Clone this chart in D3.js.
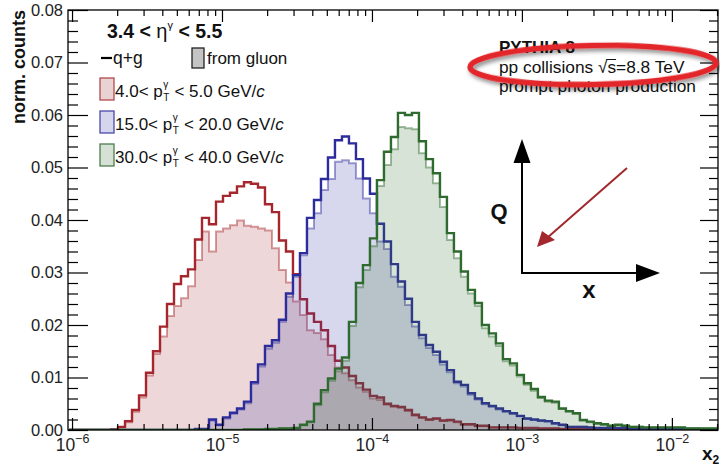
<!DOCTYPE html>
<html><head><meta charset="utf-8">
<script src="https://cdn.jsdelivr.net/npm/d3@7"></script>
<style>
body{margin:0;background:#fff}
svg{display:block}
text{font-family:"Liberation Sans",Arial,Helvetica,sans-serif}
</style>
</head><body>
<svg id="c" width="720" height="469"></svg>
<script>
// ---------------- data ----------------
const binLo = 1e-7, binHi = 1, nBins = 150;       // histogram binning in x2 (log-uniform)
const firstBin = 21, lastBin = 113;               // bins inside the visible x range
const xDomain = [9.4e-7, 0.0203];
const yDomain = [0, 0.08];
const yMajorTicks = [0, 0.01, 0.02, 0.03, 0.04, 0.05, 0.06, 0.07, 0.08];
const xDecadeTicks = [1e-6, 1e-5, 1e-4, 1e-3, 1e-2];
const xDecadeLabels = ["−6", "−5", "−4", "−3", "−2"];

const redStart = 27;
const redQG = [0.0001,0.0006,0.0017,0.0038,0.0066,0.0109,0.0150,0.0197,0.0240,0.0278,
0.0293,0.0306,0.0363,0.0404,0.0392,0.0435,0.0446,0.0452,0.0464,0.0472,
0.0469,0.0462,0.0430,0.0415,0.0361,0.0340,0.0297,0.0249,0.0222,0.0206,
0.0190,0.0160,0.0132,0.0119,0.0103,0.0089,0.0077,0.0065,0.0062,0.0050,
0.0046,0.0044,0.0038,0.0029,0.0024,0.0020,0.0022,0.0018,0.0019,0.0016,
0.0011,0.0011,0.0008,0.0008,0.0005,0.0005,0.0005,0.0005,0.0004,0.0004,
0.0004,0.0003,0.0003,0.0003,0.0002,0.0002,0.0002,0.0002,0.0002,0.0001,
0.0001,0.0001,0.0001,0.0001,0.0001,0.0001,0.0001,0.0001,0.0001];
const redGluon = [0.0001,0.0005,0.0015,0.0035,0.0062,0.0104,0.0145,0.0178,0.0217,0.0236,
0.0251,0.0274,0.0324,0.0378,0.0340,0.0378,0.0384,0.0390,0.0399,0.0389,
0.0387,0.0384,0.0380,0.0346,0.0305,0.0281,0.0245,0.0219,0.0190,0.0185,
0.0173,0.0143,0.0119,0.0108,0.0095,0.0081,0.0073,0.0060,0.0057,0.0048,
0.0044,0.0042,0.0036,0.0027,0.0023,0.0019,0.0021,0.0017,0.0018,0.0015,
0.0010,0.0010,0.0007,0.0007,0.0005,0.0005,0.0005,0.0005,0.0004,0.0004,
0.0004,0.0003,0.0003,0.0003,0.0002,0.0002,0.0002,0.0002,0.0002,0.0001,
0.0001,0.0001,0.0001,0.0001,0.0001,0.0001,0.0001,0.0001,0.0001];

const blueStart = 39;
const blueQG = [0.0002,0.0002,0.0020,0.0010,0.0024,0.0033,0.0041,0.0054,0.0091,0.0125,
0.0160,0.0171,0.0210,0.0260,0.0295,0.0337,0.0404,0.0438,0.0478,0.0519,
0.0552,0.0559,0.0546,0.0516,0.0479,0.0450,0.0393,0.0359,0.0316,0.0283,
0.0250,0.0206,0.0181,0.0162,0.0149,0.0130,0.0114,0.0092,0.0086,0.0070,
0.0060,0.0051,0.0046,0.0041,0.0036,0.0032,0.0027,0.0022,0.0020,0.0018,
0.0017,0.0013,0.0010,0.0006,0.0006,0.0006,0.0005,0.0004,0.0004,0.0004,
0.0004,0.0004,0.0002,0.0002,0.0002,0.0002,0.0002,0.0002,0.0002,0.0002,
0.0002,0.0002,0.0001,0.0001,0.0001];
const blueGluon = [0.0002,0.0002,0.0018,0.0009,0.0022,0.0031,0.0039,0.0051,0.0088,0.0121,
0.0155,0.0166,0.0206,0.0254,0.0292,0.0333,0.0384,0.0413,0.0457,0.0478,
0.0511,0.0514,0.0508,0.0479,0.0441,0.0413,0.0359,0.0345,0.0292,0.0273,
0.0238,0.0197,0.0175,0.0156,0.0143,0.0125,0.0110,0.0089,0.0083,0.0067,
0.0058,0.0049,0.0044,0.0039,0.0035,0.0031,0.0026,0.0021,0.0019,0.0017,
0.0016,0.0012,0.0009,0.0006,0.0006,0.0006,0.0005,0.0004,0.0004,0.0004,
0.0004,0.0004,0.0002,0.0002,0.0002,0.0002,0.0002,0.0002,0.0002,0.0002,
0.0002,0.0002,0.0001,0.0001,0.0001];

const greenStart = 46;
const greenQG = [0.0001,0.0001,0.0001,0.0002,0.0002,0.0003,0.0003,0.0004,0.0010,0.0016,
0.0050,0.0076,0.0098,0.0117,0.0138,0.0206,0.0280,0.0314,0.0365,0.0476,
0.0530,0.0558,0.0604,0.0600,0.0604,0.0550,0.0516,0.0489,0.0444,0.0375,
0.0340,0.0302,0.0267,0.0242,0.0200,0.0184,0.0165,0.0135,0.0127,0.0105,
0.0089,0.0078,0.0063,0.0056,0.0054,0.0041,0.0036,0.0032,0.0019,0.0016,
0.0013,0.0011,0.0008,0.0010,0.0008,0.0006,0.0006,0.0005,0.0005,0.0005,
0.0005,0.0005,0.0005,0.0003,0.0003,0.0003,0.0003,0.0003];
const greenGluon = [0.0001,0.0001,0.0001,0.0002,0.0002,0.0003,0.0003,0.0004,0.0009,0.0015,
0.0047,0.0072,0.0094,0.0112,0.0132,0.0198,0.0272,0.0305,0.0350,0.0465,
0.0505,0.0535,0.0577,0.0575,0.0573,0.0527,0.0500,0.0470,0.0425,0.0362,
0.0327,0.0292,0.0260,0.0236,0.0194,0.0178,0.0160,0.0131,0.0123,0.0102,
0.0086,0.0075,0.0061,0.0054,0.0052,0.0040,0.0035,0.0031,0.0018,0.0015,
0.0012,0.0010,0.0008,0.0009,0.0008,0.0006,0.0006,0.0005,0.0005,0.0005,
0.0005,0.0005,0.0005,0.0003,0.0003,0.0003,0.0003,0.0003];

const seriesLabels = [["4.0", "5.0"], ["15.0", "20.0"], ["30.0", "40.0"]];

// ---------------- layout ----------------
const L = 68, R = 718, T = 10, B = 430;
const svg = d3.select("#c");
const x = d3.scaleLog().domain(xDomain).range([L, R]);
const y = d3.scaleLinear().domain(yDomain).range([B, T]);

const defs = svg.append("defs");
defs.append("clipPath").attr("id", "plotclip").append("rect")
  .attr("x", L).attr("y", T).attr("width", R - L).attr("height", B - T);
const f = defs.append("filter").attr("id", "shadow").attr("x", "-10%").attr("y", "-30%").attr("width", "120%").attr("height", "160%");
f.append("feDropShadow").attr("dx", 2).attr("dy", 3).attr("stdDeviation", 2.2)
  .attr("flood-color", "#000").attr("flood-opacity", 0.45);

const lgLo = Math.log10(binLo), lgStep = (Math.log10(binHi) - Math.log10(binLo)) / nBins;
const edge = k => Math.pow(10, lgLo + k * lgStep);

function histPath(vals, start) {
  let p = d3.path();
  p.moveTo(x(edge(firstBin)), y(0));
  for (let k = firstBin; k <= lastBin; k++) {
    const i = k - start;
    const v = (i >= 0 && i < vals.length) ? vals[i] : 0;
    p.lineTo(x(edge(k)), y(v));
    p.lineTo(x(edge(k + 1)), y(v));
  }
  p.lineTo(x(edge(lastBin + 1)), y(0));
  return p.toString();
}

const series = [
  {qg: redQG, gl: redGluon, start: redStart, dark: "#a5262c", fill: "rgba(170,55,60,0.2)"},
  {qg: blueQG, gl: blueGluon, start: blueStart, dark: "#2c2c9c", fill: "rgba(55,55,170,0.2)"},
  {qg: greenQG, gl: greenGluon, start: greenStart, dark: "#2f6a2f", fill: "rgba(55,115,55,0.2)"}
];

const plot = svg.append("g").attr("clip-path", "url(#plotclip)");
series.forEach(s => {
  plot.append("path").attr("d", histPath(s.gl, s.start)).attr("fill", s.fill).attr("stroke", "none");
  plot.append("path").attr("d", histPath(s.gl, s.start)).attr("fill", "none")
    .attr("stroke", s.dark).attr("stroke-opacity", 0.45).attr("stroke-width", 2);
  plot.append("path").attr("d", histPath(s.qg, s.start)).attr("fill", "none")
    .attr("stroke", s.dark).attr("stroke-width", 2.4).attr("stroke-linejoin", "miter");
});

// ---------------- axes ----------------
const yMinor = d3.range(0, 0.0801, 0.002).filter(v => Math.abs(v * 100 - Math.round(v * 100)) > 1e-6);
const xMinor = [];
[1e-7, 1e-6, 1e-5, 1e-4, 1e-3, 1e-2].forEach(d => { for (let m = 2; m <= 9; m++) { const v = d * m; if (v > xDomain[0] && v < xDomain[1]) xMinor.push(v); } });

function styleAxis(g) { g.select(".domain").remove(); g.selectAll(".tick line").attr("stroke", "#000").attr("stroke-width", 1.2); }

const yl = svg.append("g").attr("transform", `translate(${L},0)`)
  .call(d3.axisLeft(y).tickValues(yMajorTicks).tickFormat(d3.format(".2f")).tickSizeInner(-20).tickSizeOuter(0).tickPadding(5));
styleAxis(yl);
yl.selectAll(".tick text").attr("font-size", 16.5).attr("fill", "#222").attr("font-family", '"Liberation Sans",Arial,sans-serif');
svg.append("g").attr("transform", `translate(${L},0)`)
  .call(d3.axisLeft(y).tickValues(yMinor).tickFormat("").tickSizeInner(-10).tickSizeOuter(0)).call(styleAxis);
svg.append("g").attr("transform", `translate(${R},0)`)
  .call(d3.axisRight(y).tickValues(yMajorTicks).tickFormat("").tickSizeInner(-18).tickSizeOuter(0)).call(styleAxis);
svg.append("g").attr("transform", `translate(${R},0)`)
  .call(d3.axisRight(y).tickValues(yMinor).tickFormat("").tickSizeInner(-9).tickSizeOuter(0)).call(styleAxis);

const xb = svg.append("g").attr("transform", `translate(0,${B})`)
  .call(d3.axisBottom(x).tickValues(xDecadeTicks).tickSizeInner(-12).tickSizeOuter(0).tickPadding(9));
styleAxis(xb);
xb.selectAll(".tick text").each(function(d, i) {
  const t = d3.select(this);
  t.text(null).attr("font-size", 17.5).attr("fill", "#222").attr("font-family", '"Liberation Sans",Arial,sans-serif');
  t.append("tspan").text("10");
  t.append("tspan").attr("dy", -8).attr("font-size", 12.5).text(xDecadeLabels[i]);
});
svg.append("g").attr("transform", `translate(0,${B})`)
  .call(d3.axisBottom(x).tickValues(xMinor).tickFormat("").tickSizeInner(-6).tickSizeOuter(0)).call(styleAxis);
svg.append("g").attr("transform", `translate(0,${T})`)
  .call(d3.axisTop(x).tickValues(xDecadeTicks).tickFormat("").tickSizeInner(-12).tickSizeOuter(0)).call(styleAxis);
svg.append("g").attr("transform", `translate(0,${T})`)
  .call(d3.axisTop(x).tickValues(xMinor).tickFormat("").tickSizeInner(-6).tickSizeOuter(0)).call(styleAxis);

svg.append("rect").attr("x", L).attr("y", T).attr("width", R - L).attr("height", B - T)
  .attr("fill", "none").attr("stroke", "#000").attr("stroke-width", 1.3);

// axis titles
svg.append("text").attr("transform", "translate(25,10) rotate(-90)").attr("text-anchor", "end")
  .attr("font-size", 18).attr("font-weight", "bold").attr("fill", "#111").text("norm. counts");
const xt = svg.append("text").attr("x", 702).attr("y", 460).attr("font-size", 19).attr("font-weight", "bold").attr("fill", "#111");
xt.append("tspan").text("x");
xt.append("tspan").attr("dy", 4).attr("font-size", 12).text("2");

// ---------------- legend ----------------
const tt = svg.append("text").attr("x", 107).attr("y", 38).attr("font-size", 19.5).attr("font-weight", "bold").attr("fill", "#111");
tt.append("tspan").text("3.4 < ");
tt.append("tspan").attr("font-weight", "normal").attr("font-size", 20).text("η");
tt.append("tspan").attr("dy", -9).attr("font-size", 11).attr("font-weight", "normal").text("γ");
tt.append("tspan").attr("dy", 9).text("\u00a0< 5.5");

svg.append("line").attr("x1", 101).attr("x2", 112).attr("y1", 58).attr("y2", 58).attr("stroke", "#000").attr("stroke-width", 2.2);
svg.append("text").attr("x", 113).attr("y", 64).attr("font-size", 17.5).attr("fill", "#111").text("q+g");
svg.append("rect").attr("x", 192).attr("y", 48).attr("width", 12).attr("height", 20).attr("fill", "#c4c4c4").attr("stroke", "#222").attr("stroke-width", 1.3);
svg.append("text").attr("x", 207).attr("y", 64).attr("font-size", 17).attr("fill", "#111").text("from gluon");

const boxY = [78, 111, 144];
const boxFill = ["#e8d2d4", "#d5d5ec", "#d5e1d5"];
const boxStroke = ["#b24a4f", "#4b4bab", "#4d7d4d"];
seriesLabels.forEach((lab, i) => {
  const by = boxY[i];
  svg.append("rect").attr("x", 100).attr("y", by).attr("width", 14).attr("height", 22)
    .attr("fill", boxFill[i]).attr("stroke", boxStroke[i]).attr("stroke-width", 1.3);
  const base = by + 19;
  const t1 = svg.append("text").attr("x", 115).attr("y", base).attr("font-size", 17).attr("fill", "#111").text(lab[0] + "< p");
  const w1 = t1.node().getComputedTextLength();
  svg.append("text").attr("x", 115 + w1 + 0.5).attr("y", base - 9).attr("font-size", 10).attr("fill", "#111").text("γ");
  svg.append("text").attr("x", 115 + w1 + 0.5).attr("y", base + 4).attr("font-size", 10).attr("fill", "#111").text("T");
  const t2 = svg.append("text").attr("x", 115 + w1 + 7).attr("y", base).attr("font-size", 17).attr("fill", "#111");
  t2.append("tspan").text("\u00a0< " + lab[1] + " GeV/");
  t2.append("tspan").attr("font-style", "italic").text("c");
});

// ---------------- PYTHIA text ----------------
svg.append("text").attr("x", 499).attr("y", 53).attr("font-size", 17).attr("font-weight", "bold").attr("fill", "#111").text("PYTHIA 8");
const pp = svg.append("text").attr("x", 499).attr("y", 73).attr("font-size", 17.3).attr("fill", "#111");
pp.append("tspan").text("pp collisions √");
pp.append("tspan").text("s");
pp.append("tspan").text("=8.8 TeV");
{
  const n = pp.node();
  const s0 = n.getSubStringLength(0, 15), s1 = n.getSubStringLength(15, 1);
  svg.append("line").attr("x1", 499 + s0 - 1).attr("x2", 499 + s0 + s1).attr("y1", 59.5).attr("y2", 59.5)
    .attr("stroke", "#111").attr("stroke-width", 1);
}
svg.append("text").attr("x", 499).attr("y", 92).attr("font-size", 17.3).attr("fill", "#111").text("prompt photon production");

// red highlight ellipse
svg.append("ellipse").attr("cx", 593).attr("cy", 65).attr("rx", 123).attr("ry", 19.5)
  .attr("transform", "rotate(-1 593 65)")
  .attr("fill", "none").attr("stroke", "#e3262c").attr("stroke-width", 5.5).attr("filter", "url(#shadow)");

// ---------------- Q-x diagram ----------------
const dg = svg.append("g");
dg.append("line").attr("x1", 522).attr("y1", 273).attr("x2", 522).attr("y2", 160).attr("stroke", "#000").attr("stroke-width", 2);
dg.append("path").attr("d", "M522,139 L530.5,163 L513.5,163 Z").attr("fill", "#000");
dg.append("line").attr("x1", 521).attr("y1", 273).attr("x2", 640).attr("y2", 273).attr("stroke", "#000").attr("stroke-width", 2);
dg.append("path").attr("d", "M660,273 L636,264 L636,282 Z").attr("fill", "#000");
dg.append("text").attr("x", 499).attr("y", 219).attr("text-anchor", "middle").attr("font-size", 22).attr("font-weight", "bold").attr("fill", "#111").text("Q");
dg.append("text").attr("x", 589).attr("y", 298).attr("text-anchor", "middle").attr("font-size", 24).attr("font-weight", "bold").attr("fill", "#111").text("x");
dg.append("line").attr("x1", 627).attr("y1", 168).attr("x2", 547).attr("y2", 238).attr("stroke", "#a3282d").attr("stroke-width", 2);
dg.append("path").attr("d", "M537,247 L542,231 L555,240 Z").attr("fill", "#a3282d");
</script>
</body></html>
